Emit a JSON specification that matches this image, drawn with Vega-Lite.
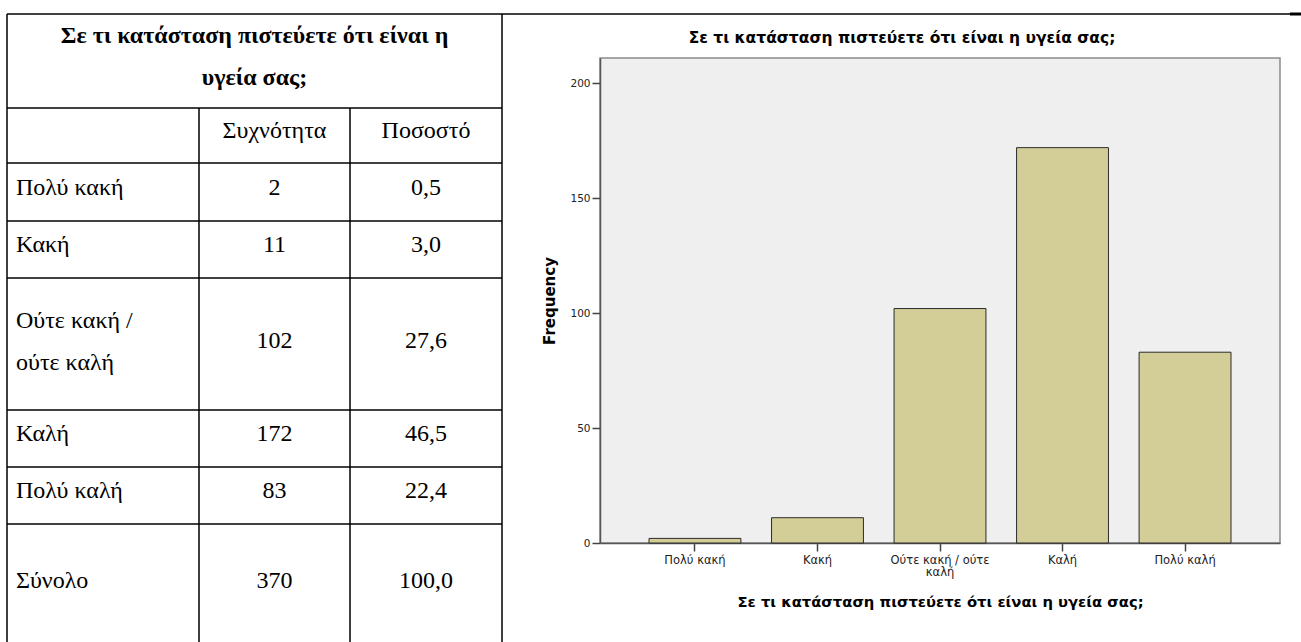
{
  "$schema": "https://vega.github.io/schema/vega-lite/v6.json",
  "width": 680,
  "height": 485,
  "autosize": {"type": "none"},
  "padding": {"left": 600, "top": 58, "right": 21, "bottom": 99},
  "background": "white",
  "title": {
    "text": "Σε τι κατάσταση πιστεύετε ότι είναι η υγεία σας;",
    "font": "DejaVu Sans",
    "fontSize": 15.5,
    "fontWeight": "bold",
    "color": "#000",
    "anchor": "middle",
    "frame": "group",
    "baseline": "alphabetic",
    "offset": -46,
    "dx": -38
  },
  "datasets": {
    "freq": [
      {"r": 2, "cat": "Πολύ κακή", "n": 2, "pct": 0.5},
      {"r": 3, "cat": "Κακή", "n": 11, "pct": 3.0},
      {"r": 4, "cat": "Ούτε κακή / ούτε καλή", "n": 102, "pct": 27.6},
      {"r": 5, "cat": "Καλή", "n": 172, "pct": 46.5},
      {"r": 6, "cat": "Πολύ καλή", "n": 83, "pct": 22.4},
      {"r": 7, "cat": "Σύνολο", "n": 370, "pct": 100.0}
    ]
  },
  "data": {"name": "freq"},
  "layer": [
    {
      "layer": [
        {
          "mark": {"type": "rule", "color": "#000", "strokeWidth": 1.5},
          "encoding": {
            "y": {"field": "r", "type": "quantitative", "axis": null, "scale": {"domain": [0, 1, 2, 3, 4, 5, 6, 7, 8], "range": [-44, 50, 105, 163, 220, 352, 409, 466, 590], "nice": false, "zero": false}},
            "x": {"datum": 0, "type": "quantitative", "axis": null, "scale": {"domain": [0, 1, 2, 3, 4, 5], "range": [-593, -401, -250, -98, 690, 701], "nice": false, "zero": false}},
            "x2": {"datum": 3}
          }
        },
        {
          "data": {"values": [{}]},
          "mark": {"type": "rule", "color": "#000", "strokeWidth": 1.5},
          "encoding": {"y": {"datum": 1, "type": "quantitative"}, "x": {"datum": 0, "type": "quantitative"}, "x2": {"datum": 3}}
        },
        {
          "data": {"values": [{}]},
          "mark": {"type": "rule", "color": "#000", "strokeWidth": 1.5},
          "encoding": {"y": {"datum": 0, "type": "quantitative"}, "x": {"datum": 0, "type": "quantitative"}, "x2": {"datum": 4}}
        },
        {
          "data": {"values": [{}]},
          "mark": {"type": "rule", "color": "#000", "strokeWidth": 3},
          "encoding": {"y": {"datum": 0, "type": "quantitative"}, "x": {"datum": 4, "type": "quantitative"}, "x2": {"datum": 5}}
        },
        {
          "data": {"values": [{}]},
          "mark": {"type": "rule", "color": "#000", "strokeWidth": 1.5},
          "encoding": {"x": {"datum": 0, "type": "quantitative"}, "y": {"datum": 0, "type": "quantitative"}, "y2": {"datum": 8}}
        },
        {
          "data": {"values": [{}]},
          "mark": {"type": "rule", "color": "#000", "strokeWidth": 1.5},
          "encoding": {"x": {"datum": 3, "type": "quantitative"}, "y": {"datum": 0, "type": "quantitative"}, "y2": {"datum": 8}}
        },
        {
          "data": {"values": [{}]},
          "mark": {"type": "rule", "color": "#000", "strokeWidth": 1.5},
          "encoding": {"x": {"datum": 1, "type": "quantitative"}, "y": {"datum": 1, "type": "quantitative"}, "y2": {"datum": 8}}
        },
        {
          "data": {"values": [{}]},
          "mark": {"type": "rule", "color": "#000", "strokeWidth": 1.5},
          "encoding": {"x": {"datum": 2, "type": "quantitative"}, "y": {"datum": 1, "type": "quantitative"}, "y2": {"datum": 8}}
        }
      ]
    },
    {
      "layer": [
        {
          "data": {"values": [{}]},
          "mark": {"type": "text", "font": "Liberation Serif", "fontSize": 24, "fontWeight": "bold", "color": "#000", "align": "center", "baseline": "middle", "lineHeight": 41.5, "dx": -20},
          "encoding": {
            "x": {"datum": 1.5, "type": "quantitative", "axis": null, "scale": {"domain": [0, 1, 2, 3, 4, 5], "range": [-593, -401, -250, -98, 690, 701], "nice": false, "zero": false}},
            "y": {"datum": 0, "type": "quantitative", "axis": null, "scale": {"domain": [0, 1, 2, 3, 4, 5, 6, 7], "range": [-22, 73, 130, 187, 283, 376, 433, 523], "nice": false, "zero": false}},
            "text": {"value": ["Σε τι κατάσταση πιστεύετε ότι είναι η", "υγεία σας;"]}
          }
        },
        {
          "data": {"values": [{}]},
          "mark": {"type": "text", "font": "Liberation Serif", "fontSize": 24, "color": "#000", "align": "center", "baseline": "middle"},
          "encoding": {"x": {"datum": 1.5, "type": "quantitative"}, "y": {"datum": 1, "type": "quantitative"}, "text": {"value": "Συχνότητα"}}
        },
        {
          "data": {"values": [{}]},
          "mark": {"type": "text", "font": "Liberation Serif", "fontSize": 24, "color": "#000", "align": "center", "baseline": "middle"},
          "encoding": {"x": {"datum": 2.5, "type": "quantitative"}, "y": {"datum": 1, "type": "quantitative"}, "text": {"value": "Ποσοστό"}}
        },
        {
          "transform": [{"filter": "datum.r != 4"}],
          "mark": {"type": "text", "font": "Liberation Serif", "fontSize": 24, "color": "#000", "align": "left", "baseline": "middle", "dx": 9},
          "encoding": {
            "x": {"datum": 0, "type": "quantitative"},
            "y": {"field": "r", "type": "quantitative"},
            "text": {"field": "cat", "type": "nominal"}
          }
        },
        {
          "transform": [{"filter": "datum.r == 4"}],
          "mark": {"type": "text", "font": "Liberation Serif", "fontSize": 24, "color": "#000", "align": "left", "baseline": "middle", "lineHeight": 42, "dx": 9, "dy": -20},
          "encoding": {
            "x": {"datum": 0, "type": "quantitative"},
            "y": {"field": "r", "type": "quantitative"},
            "text": {"value": ["Ούτε κακή /", "ούτε καλή"]}
          }
        },
        {
          "mark": {"type": "text", "font": "Liberation Serif", "fontSize": 24, "color": "#000", "align": "center", "baseline": "middle"},
          "encoding": {
            "x": {"datum": 1.5, "type": "quantitative"},
            "y": {"field": "r", "type": "quantitative"},
            "text": {"field": "n", "type": "quantitative", "format": "d"}
          }
        },
        {
          "mark": {"type": "text", "font": "Liberation Serif", "fontSize": 24, "color": "#000", "align": "center", "baseline": "middle"},
          "encoding": {
            "x": {"datum": 2.5, "type": "quantitative"},
            "y": {"field": "r", "type": "quantitative"},
            "text": {"field": "pct", "type": "quantitative", "format": ".1f"}
          }
        }
      ]
    },
    {
      "transform": [{"filter": "datum.r < 7"}],
      "mark": {"type": "bar", "fill": "#D3CE97", "stroke": "#2b2b2b", "strokeWidth": 1},
      "encoding": {
        "x": {
          "field": "cat",
          "type": "nominal",
          "sort": ["Πολύ κακή", "Κακή", "Ούτε κακή / ούτε καλή", "Καλή", "Πολύ καλή"],
          "scale": {"paddingInner": 0.25, "paddingOuter": 0.4},
          "axis": {
            "orient": "bottom",
            "title": "Σε τι κατάσταση πιστεύετε ότι είναι η υγεία σας;",
            "labelAngle": 0,
            "labelExpr": "datum.value == 'Ούτε κακή / ούτε καλή' ? ['Ούτε κακή / ούτε', 'καλή'] : datum.value",
            "labelFont": "DejaVu Sans",
            "labelFontSize": 11.5,
            "labelColor": "#222",
            "labelLineHeight": 12,
            "labelLimit": 0,
            "tickSize": 8,
            "labelPadding": 3,
            "bandPosition": 0.5,
            "domainColor": "#555",
            "domainWidth": 1.5,
            "tickColor": "#444",
            "tickWidth": 1.5,
            "titleFont": "DejaVu Sans",
            "titleFontSize": 14.75,
            "titleFontWeight": "bold",
            "titleColor": "#000",
            "titlePadding": 17
          }
        },
        "y": {
          "field": "n",
          "type": "quantitative",
          "scale": {"domain": [0, 211], "nice": false},
          "axis": {
            "orient": "left",
            "title": "Frequency",
            "values": [0, 50, 100, 150, 200],
            "grid": false,
            "tickSize": 8,
            "labelPadding": 2,
            "labelFont": "DejaVu Sans",
            "labelFontSize": 10.5,
            "labelColor": "#222",
            "domainColor": "#555",
            "domainWidth": 1.5,
            "tickColor": "#444",
            "tickWidth": 1.5,
            "titleFont": "DejaVu Sans",
            "titleFontSize": 15,
            "titleFontWeight": "bold",
            "titleColor": "#000",
            "titlePadding": 12
          }
        }
      }
    }
  ],
  "resolve": {"scale": {"x": "independent", "y": "independent"}},
  "config": {
    "view": {"fill": "#EFEFEF", "stroke": "#8a8a8a", "strokeWidth": 1.5},
    "locale": {"number": {"decimal": ",", "thousands": ".", "grouping": [3], "currency": ["", " €"]}}
  }
}
